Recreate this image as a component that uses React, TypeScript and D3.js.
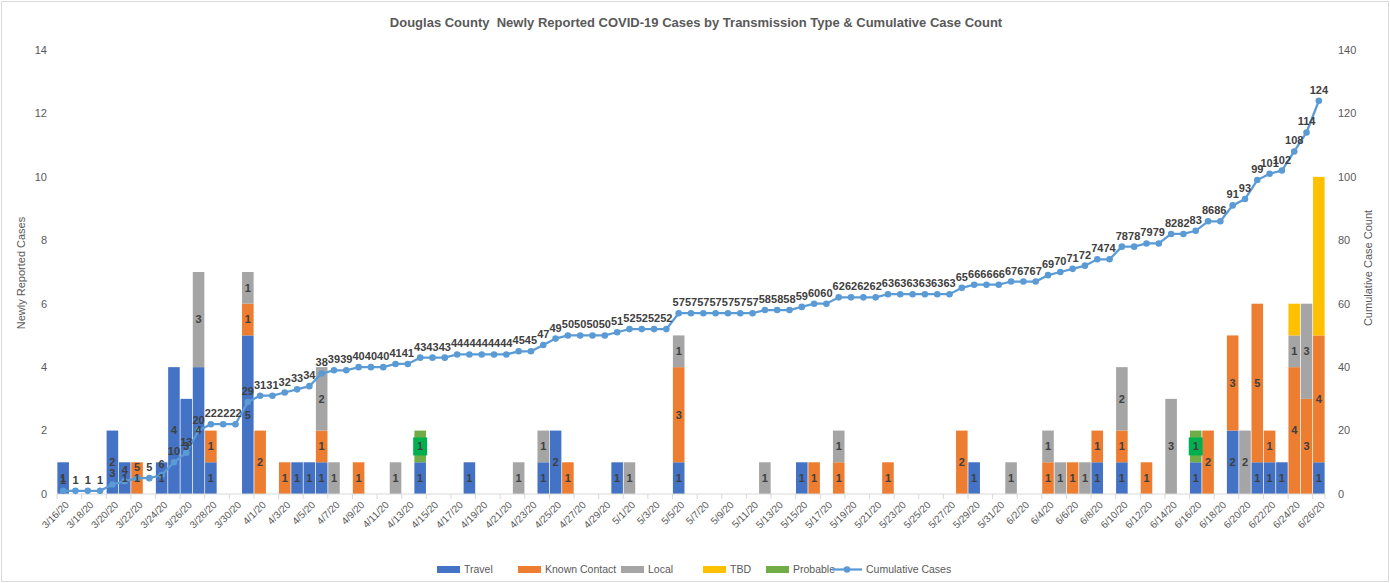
import React, { useEffect } from "react";
import * as d3 from "d3";

// x categories: 3/16/20 .. 6/26/20
const dates = [
  "3/16/20", "3/17/20", "3/18/20", "3/19/20", "3/20/20", "3/21/20", "3/22/20", "3/23/20",
  "3/24/20", "3/25/20", "3/26/20", "3/27/20", "3/28/20", "3/29/20", "3/30/20", "3/31/20",
  "4/1/20", "4/2/20", "4/3/20", "4/4/20", "4/5/20", "4/6/20", "4/7/20", "4/8/20", "4/9/20", "4/10/20",
  "4/11/20", "4/12/20", "4/13/20", "4/14/20", "4/15/20", "4/16/20", "4/17/20", "4/18/20", "4/19/20", "4/20/20",
  "4/21/20", "4/22/20", "4/23/20", "4/24/20", "4/25/20", "4/26/20", "4/27/20", "4/28/20", "4/29/20", "4/30/20",
  "5/1/20", "5/2/20", "5/3/20", "5/4/20", "5/5/20", "5/6/20", "5/7/20", "5/8/20", "5/9/20", "5/10/20",
  "5/11/20", "5/12/20", "5/13/20", "5/14/20", "5/15/20", "5/16/20", "5/17/20", "5/18/20", "5/19/20", "5/20/20",
  "5/21/20", "5/22/20", "5/23/20", "5/24/20", "5/25/20", "5/26/20", "5/27/20", "5/28/20", "5/29/20", "5/30/20", "5/31/20",
  "6/1/20", "6/2/20", "6/3/20", "6/4/20", "6/5/20", "6/6/20", "6/7/20", "6/8/20", "6/9/20", "6/10/20",
  "6/11/20", "6/12/20", "6/13/20", "6/14/20", "6/15/20", "6/16/20", "6/17/20", "6/18/20", "6/19/20", "6/20/20",
  "6/21/20", "6/22/20", "6/23/20", "6/24/20", "6/25/20", "6/26/20",
];

const travel = [
  1, 0, 0, 0, 2, 1, 0, 0, 1, 4, 3, 4, 1, 0, 0, 5,
  0, 0, 0, 1, 1, 1, 0, 0, 0, 0,
  0, 0, 0, 1, 0, 0, 0, 1, 0, 0,
  0, 0, 0, 1, 2, 0, 0, 0, 0, 1,
  0, 0, 0, 0, 1, 0, 0, 0, 0, 0,
  0, 0, 0, 0, 1, 0, 0, 0, 0, 0,
  0, 0, 0, 0, 0, 0, 0, 0, 1, 0, 0,
  0, 0, 0, 0, 0, 0, 0, 1, 0, 1,
  0, 0, 0, 0, 0, 1, 0, 0, 2, 0,
  1, 1, 1, 0, 0, 1,
];

const knownContact = [
  0, 0, 0, 0, 0, 0, 1, 0, 0, 0, 0, 0, 1, 0, 0, 1,
  2, 0, 1, 0, 0, 1, 0, 0, 1, 0,
  0, 0, 0, 0, 0, 0, 0, 0, 0, 0,
  0, 0, 0, 0, 0, 1, 0, 0, 0, 0,
  0, 0, 0, 0, 3, 0, 0, 0, 0, 0,
  0, 0, 0, 0, 0, 1, 0, 1, 0, 0,
  0, 1, 0, 0, 0, 0, 0, 2, 0, 0, 0,
  0, 0, 0, 1, 0, 1, 0, 1, 0, 1,
  0, 1, 0, 0, 0, 0, 2, 0, 3, 0,
  5, 1, 0, 4, 3, 4,
];

const local = [
  0, 0, 0, 0, 0, 0, 0, 0, 0, 0, 0, 3, 0, 0, 0, 1,
  0, 0, 0, 0, 0, 2, 1, 0, 0, 0,
  0, 1, 0, 0, 0, 0, 0, 0, 0, 0,
  0, 1, 0, 1, 0, 0, 0, 0, 0, 0,
  1, 0, 0, 0, 1, 0, 0, 0, 0, 0,
  0, 1, 0, 0, 0, 0, 0, 1, 0, 0,
  0, 0, 0, 0, 0, 0, 0, 0, 0, 0, 0,
  1, 0, 0, 1, 1, 0, 1, 0, 0, 2,
  0, 0, 0, 3, 0, 0, 0, 0, 0, 2,
  0, 0, 0, 1, 3, 0,
];

const tbd = [
  0, 0, 0, 0, 0, 0, 0, 0, 0, 0, 0, 0, 0, 0, 0, 0,
  0, 0, 0, 0, 0, 0, 0, 0, 0, 0,
  0, 0, 0, 0, 0, 0, 0, 0, 0, 0,
  0, 0, 0, 0, 0, 0, 0, 0, 0, 0,
  0, 0, 0, 0, 0, 0, 0, 0, 0, 0,
  0, 0, 0, 0, 0, 0, 0, 0, 0, 0,
  0, 0, 0, 0, 0, 0, 0, 0, 0, 0, 0,
  0, 0, 0, 0, 0, 0, 0, 0, 0, 0,
  0, 0, 0, 0, 0, 0, 0, 0, 0, 0,
  0, 0, 0, 1, 0, 5,
];

const probable = [
  0, 0, 0, 0, 0, 0, 0, 0, 0, 0, 0, 0, 0, 0, 0, 0,
  0, 0, 0, 0, 0, 0, 0, 0, 0, 0,
  0, 0, 0, 1, 0, 0, 0, 0, 0, 0,
  0, 0, 0, 0, 0, 0, 0, 0, 0, 0,
  0, 0, 0, 0, 0, 0, 0, 0, 0, 0,
  0, 0, 0, 0, 0, 0, 0, 0, 0, 0,
  0, 0, 0, 0, 0, 0, 0, 0, 0, 0, 0,
  0, 0, 0, 0, 0, 0, 0, 0, 0, 0,
  0, 0, 0, 0, 0, 1, 0, 0, 0, 0,
  0, 0, 0, 0, 0, 0,
];

const cumulative = [
  1, 1, 1, 1, 3, 4, 5, 5, 6, 10, 13, 20, 22, 22, 22, 29,
  31, 31, 32, 33, 34, 38, 39, 39, 40, 40,
  40, 41, 41, 43, 43, 43, 44, 44, 44, 44,
  44, 45, 45, 47, 49, 50, 50, 50, 50, 51,
  52, 52, 52, 52, 57, 57, 57, 57, 57, 57,
  57, 58, 58, 58, 59, 60, 60, 62, 62, 62,
  62, 63, 63, 63, 63, 63, 63, 65, 66, 66, 66,
  67, 67, 67, 69, 70, 71, 72, 74, 74, 78,
  78, 79, 79, 82, 82, 83, 86, 86, 91, 93,
  99, 101, 102, 108, 114, 124,
];

const seriesNames = ["Travel", "Known Contact", "Local", "TBD", "Probable"];
const seriesValues = [travel, knownContact, local, tbd, probable];
const seriesColors = ["#4472C4", "#ED7D31", "#A5A5A5", "#FFC000", "#70AD47"];
const leftTicks = [0, 2, 4, 6, 8, 10, 12, 14];
const rightTicks = [0, 20, 40, 60, 80, 100, 120, 140];

const W = 1390;
const H = 583;
const plotLeft = 57;
const plotRight = 1325;
const plotTop = 50;
const plotBottom = 494;
const font = "'Liberation Sans', Arial, sans-serif";
const textGray = "#595959";
const labelDark = "#404040";

export default function App() {
  useEffect(() => {
    document.body.style.margin = "0";
  }, []);

  const x = d3
    .scaleBand<string>()
    .domain(dates)
    .range([plotLeft, plotRight])
    .paddingInner(0.06)
    .paddingOuter(0.03);
  const yLeft = d3.scaleLinear().domain([0, 14]).range([plotBottom, plotTop]);
  const yRight = d3.scaleLinear().domain([0, 140]).range([plotBottom, plotTop]);

  const rows = dates.map((d, i) => {
    const r: any = { date: d };
    seriesNames.forEach((k, j) => (r[k] = seriesValues[j][i]));
    return r;
  });
  const stacked = d3.stack<any>().keys(seriesNames)(rows);

  const bw = x.bandwidth();
  const step = x.step();
  const cx = (d: string) => (x(d) as number) + bw / 2;

  const line = d3
    .line<number>()
    .x((_, i) => cx(dates[i]))
    .y((v) => yRight(v));

  // tick marks on the category axis, every second category boundary
  const tickXs = dates
    .map((d, i) => (i % 2 === 0 ? (x(d) as number) - (step - bw) / 2 : null))
    .filter((v) => v !== null) as number[];
  tickXs.push(plotRight);

  const legendItems = [
    { name: "Travel", color: seriesColors[0], x: 437 },
    { name: "Known Contact", color: seriesColors[1], x: 518 },
    { name: "Local", color: seriesColors[2], x: 621 },
    { name: "TBD", color: seriesColors[3], x: 703 },
    { name: "Probable", color: seriesColors[4], x: 766 },
  ];

  return (
    <svg width={W} height={H} style={{ display: "block", background: "#fff" }} fontFamily={font}>
      <rect x={1.5} y={1.5} width={W - 3} height={H - 3} fill="#fff" stroke="#d9d9d9" />

      <text
        x={696}
        y={27}
        textAnchor="middle"
        fontSize={13}
        fontWeight="bold"
        fill={textGray}
        style={{ whiteSpace: "pre" }}
      >
        {"Douglas County  Newly Reported COVID-19 Cases by Transmission Type & Cumulative Case Count"}
      </text>

      {/* left axis */}
      {leftTicks.map((t) => (
        <text key={"l" + t} x={47} y={yLeft(t)} dy="0.35em" textAnchor="end" fontSize={11} fill={textGray}>
          {t}
        </text>
      ))}
      <text
        transform={`translate(25,273) rotate(-90)`}
        textAnchor="middle"
        fontSize={11}
        fill={textGray}
      >
        Newly Reported Cases
      </text>

      {/* right axis */}
      {rightTicks.map((t) => (
        <text key={"r" + t} x={1338} y={yRight(t)} dy="0.35em" textAnchor="start" fontSize={11} fill={textGray}>
          {t}
        </text>
      ))}
      <text
        transform={`translate(1372,268) rotate(-90)`}
        textAnchor="middle"
        fontSize={11}
        fill={textGray}
      >
        Cumulative Case Count
      </text>

      {/* stacked bars */}
      {stacked.map((s, si) => (
        <g key={s.key} fill={seriesColors[si]}>
          {s.map((seg, i) =>
            seg[1] - seg[0] > 0 ? (
              <rect
                key={i}
                x={x(dates[i])}
                y={yLeft(seg[1])}
                width={bw}
                height={yLeft(seg[0]) - yLeft(seg[1])}
              />
            ) : null
          )}
        </g>
      ))}

      {/* category axis */}
      <line x1={plotLeft} x2={plotRight} y1={plotBottom} y2={plotBottom} stroke="#d9d9d9" />
      {tickXs.map((tx, i) => (
        <line key={i} x1={tx} x2={tx} y1={plotBottom} y2={plotBottom + 5} stroke="#d9d9d9" />
      ))}
      {dates.map((d, i) =>
        i % 2 === 0 ? (
          <text
            key={d}
            transform={`translate(${cx(d) + 4},${plotBottom + 9}) rotate(-45)`}
            textAnchor="end"
            dy="0.35em"
            fontSize={10}
            fill={textGray}
          >
            {d}
          </text>
        ) : null
      )}

      {/* cumulative line */}
      <path d={line(cumulative) || ""} fill="none" stroke="#5B9BD5" strokeWidth={2.25} />
      {cumulative.map((v, i) => (
        <circle key={i} cx={cx(dates[i])} cy={yRight(v)} r={3.3} fill="#5B9BD5" />
      ))}

      {/* bar labels (TBD has none) */}
      {stacked.map((s, si) =>
        s.key === "TBD"
          ? null
          : s.map((seg, i) => {
              const v = seg[1] - seg[0];
              if (v <= 0) return null;
              const ly = yLeft((seg[0] + seg[1]) / 2);
              return (
                <g key={s.key + i}>
                  {s.key === "Probable" ? (
                    <rect x={cx(dates[i]) - 7} y={ly - 9} width={14} height={18} fill="#00B050" />
                  ) : null}
                  <text
                    x={cx(dates[i])}
                    y={ly}
                    dy="0.35em"
                    textAnchor="middle"
                    fontSize={11}
                    fontWeight="bold"
                    fill={labelDark}
                  >
                    {v}
                  </text>
                </g>
              );
            })
      )}

      {/* cumulative labels */}
      {cumulative.map((v, i) => (
        <text
          key={"c" + i}
          x={cx(dates[i])}
          y={yRight(v) - 7}
          textAnchor="middle"
          fontSize={11}
          fontWeight="bold"
          fill={labelDark}
        >
          {v}
        </text>
      ))}

      {/* legend */}
      {legendItems.map((it) => (
        <g key={it.name}>
          <rect x={it.x} y={566} width={23} height={7} fill={it.color} />
          <text x={it.x + 27} y={569.5} dy="0.35em" fontSize={10.5} fill={textGray}>
            {it.name}
          </text>
        </g>
      ))}
      <g>
        <line x1={832} x2={862} y1={569.5} y2={569.5} stroke="#5B9BD5" strokeWidth={2.25} />
        <circle cx={847} cy={569.5} r={3.3} fill="#5B9BD5" />
        <text x={866} y={569.5} dy="0.35em" fontSize={10.5} fill={textGray}>
          Cumulative Cases
        </text>
      </g>
    </svg>
  );
}
